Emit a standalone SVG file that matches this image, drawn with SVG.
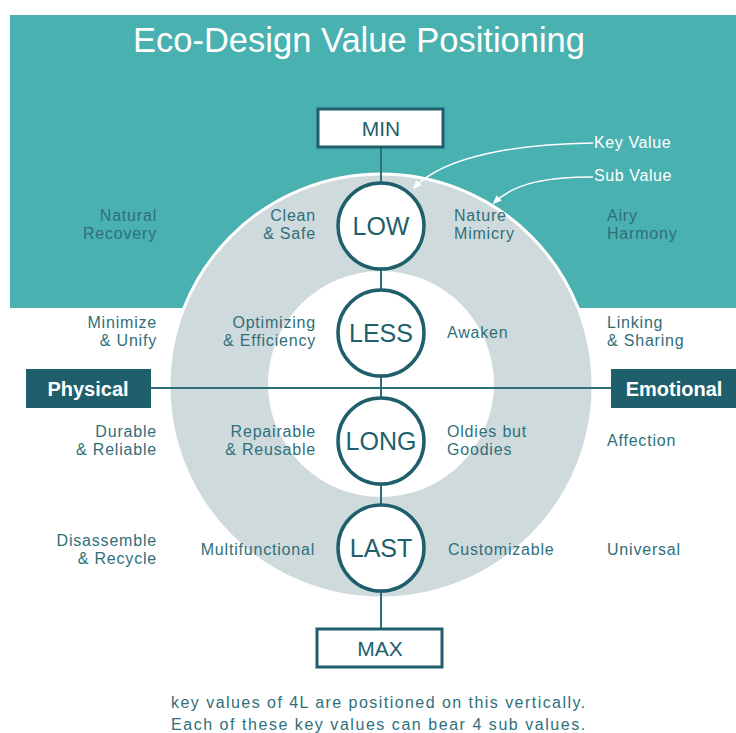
<svg xmlns="http://www.w3.org/2000/svg" width="736" height="733" viewBox="0 0 736 733">
<defs>
<style>
.lbl{font-family:"Liberation Sans",Arial,sans-serif;font-size:16px;fill:#2f6f7a;letter-spacing:0.8px}
.r{text-anchor:end}
.key{font-family:"Liberation Sans",Arial,sans-serif;font-size:25px;fill:#1e5f6b;text-anchor:middle}
.box{fill:#fff;stroke:#1e5f6b;stroke-width:3}
.bt{font-family:"Liberation Sans",Arial,sans-serif;font-size:21px;fill:#1e5f6b;text-anchor:middle}
.ax{fill:#1e5f6b}
.axt{font-family:"Liberation Sans",Arial,sans-serif;font-size:20px;font-weight:bold;fill:#fff;text-anchor:middle}
.kc{fill:#fff;stroke:#1e5f6b;stroke-width:3.5}
.conn{stroke:#2e6e78;stroke-width:2;fill:none}
.wa{stroke:#fff;stroke-width:1.5;fill:none;marker-end:url(#ah)}
.wt{font-family:"Liberation Sans",Arial,sans-serif;font-size:16px;fill:#fff;letter-spacing:0.6px}
</style>
<marker id="ah" viewBox="0 0 10 10" refX="8" refY="5" markerWidth="6" markerHeight="6" orient="auto">
<path d="M0,1 L10,5 L0,9 Z" fill="#fff"/>
</marker>
</defs>
<rect width="736" height="733" fill="#fff"/>
<rect x="10" y="15" width="726" height="293" fill="#4ab1b1"/>
<text x="359" y="52" font-family="'Liberation Sans',Arial,sans-serif" font-size="35" fill="#fff" text-anchor="middle" textLength="452" lengthAdjust="spacingAndGlyphs">Eco-Design Value Positioning</text>
<circle cx="381" cy="386" r="212" fill="#cfdadc" stroke="#fff" stroke-width="3"/>
<circle cx="381" cy="384" r="113" fill="#fff"/>
<g id="connectors">
<line class="conn" x1="381" y1="147" x2="381" y2="628"/>
<line class="conn" x1="150" y1="388" x2="611" y2="388"/>
<path class="wa" d="M593,143 C520,144 445,155 414,188"/>
<path class="wa" d="M593,177 C550,177 515,182 494,203"/>
</g>
<g id="min"><rect class="box" x="318" y="109" width="125" height="38"/><text class="bt" x="381" y="136">MIN</text></g>
<g id="max"><rect class="box" x="317" y="629" width="125" height="38"/><text class="bt" x="380" y="656">MAX</text></g>
<g id="physical"><rect class="ax" x="26" y="369" width="125" height="39"/><text class="axt" x="88" y="396">Physical</text></g>
<g id="emotional"><rect class="ax" x="611" y="369" width="125" height="39"/><text class="axt" x="674" y="396">Emotional</text></g>
<g id="low"><circle class="kc" cx="381" cy="226" r="43"/><text class="key" x="381" y="235">LOW</text></g>
<g id="less"><circle class="kc" cx="381" cy="333" r="43"/><text class="key" x="381" y="342">LESS</text></g>
<g id="long"><circle class="kc" cx="381" cy="441" r="43"/><text class="key" x="381" y="450">LONG</text></g>
<g id="last"><circle class="kc" cx="381" cy="548" r="43"/><text class="key" x="381" y="557">LAST</text></g>
<g id="legend"><text class="wt" x="594" y="148">Key Value</text><text class="wt" x="594" y="181">Sub Value</text></g>
<g id="sub-values">
<text class="lbl r" x="157" y="221">Natural</text><text class="lbl r" x="157" y="239">Recovery</text>
<text class="lbl r" x="316" y="221">Clean</text><text class="lbl r" x="316" y="239">&amp; Safe</text>
<text class="lbl" x="454" y="221">Nature</text><text class="lbl" x="454" y="239">Mimicry</text>
<text class="lbl" x="607" y="221">Airy</text><text class="lbl" x="607" y="239">Harmony</text>
<text class="lbl r" x="157" y="328">Minimize</text><text class="lbl r" x="157" y="346">&amp; Unify</text>
<text class="lbl r" x="316" y="328">Optimizing</text><text class="lbl r" x="316" y="346">&amp; Efficiency</text>
<text class="lbl" x="447" y="338">Awaken</text>
<text class="lbl" x="607" y="328">Linking</text><text class="lbl" x="607" y="346">&amp; Sharing</text>
<text class="lbl r" x="157" y="437">Durable</text><text class="lbl r" x="157" y="455">&amp; Reliable</text>
<text class="lbl r" x="316" y="437">Repairable</text><text class="lbl r" x="316" y="455">&amp; Reusable</text>
<text class="lbl" x="447" y="437">Oldies but</text><text class="lbl" x="447" y="455">Goodies</text>
<text class="lbl" x="607" y="446">Affection</text>
<text class="lbl r" x="157" y="546">Disassemble</text><text class="lbl r" x="157" y="564">&amp; Recycle</text>
<text class="lbl r" x="315" y="555">Multifunctional</text>
<text class="lbl" x="448" y="555">Customizable</text>
<text class="lbl" x="607" y="555">Universal</text>
</g>
<g id="note">
<text class="lbl" x="171" y="708" textLength="415" lengthAdjust="spacing">key values of 4L are positioned  on this  vertically.</text>
<text class="lbl" x="171" y="730" textLength="415" lengthAdjust="spacing">Each of these key values can bear 4 sub values.</text>
</g>
</svg>
